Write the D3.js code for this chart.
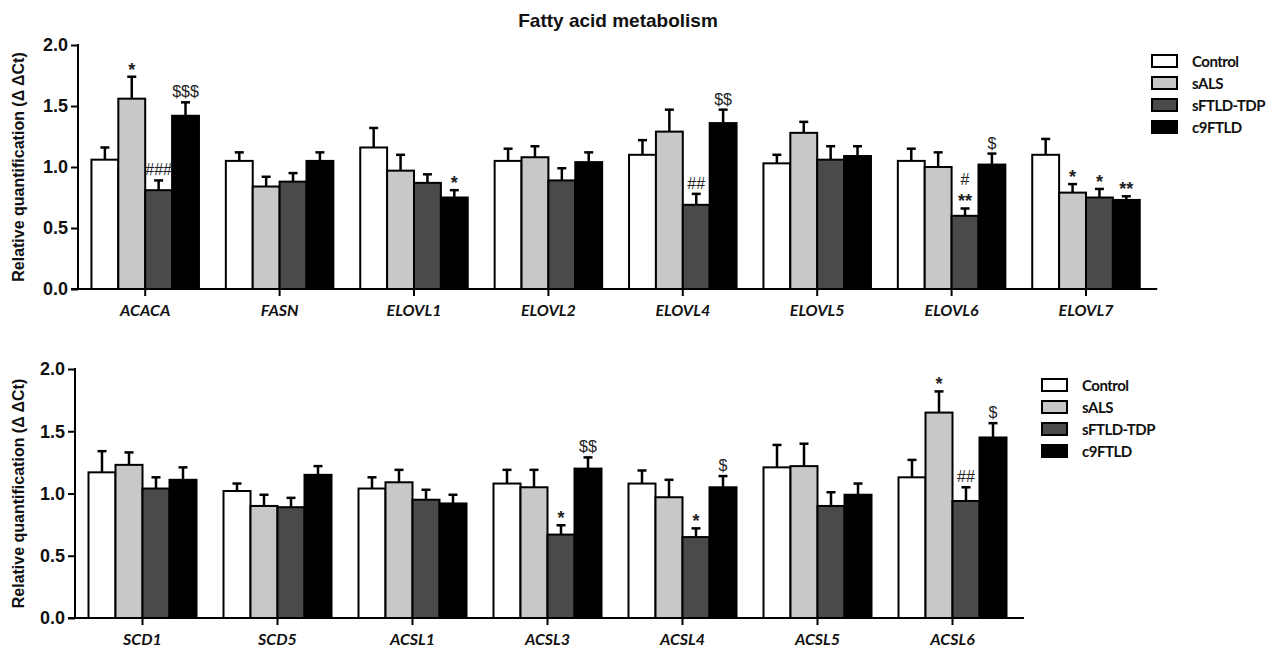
<!DOCTYPE html>
<html>
<head>
<meta charset="utf-8">
<script src="https://cdn.jsdelivr.net/npm/d3@7"></script>
<style>
  body { margin: 0; background: white; }
  svg { display: block; }
</style>
</head>
<body>
<div id="chartId"></div>
<script>

const SERIES = ["Control", "sALS", "sFTLD-TDP", "c9FTLD"]
// white, light grey, dark grey, black
const SERIES_COLORS = ["#ffffff", "#c8c8c8", "#4a4a4a", "#000000"]

const TOP_GENES = ["ACACA", "FASN", "ELOVL1", "ELOVL2", "ELOVL4", "ELOVL5", "ELOVL6", "ELOVL7"]
// one row per gene, one value per series
const TOP_MEAN = [
    [1.06, 1.56, 0.81, 1.42],
    [1.05, 0.84, 0.88, 1.05],
    [1.16, 0.97, 0.87, 0.75],
    [1.05, 1.08, 0.89, 1.04],
    [1.10, 1.29, 0.69, 1.36],
    [1.03, 1.28, 1.06, 1.09],
    [1.05, 1.00, 0.60, 1.02],
    [1.10, 0.79, 0.75, 0.73]
]
const TOP_SEM = [
    [0.10, 0.18, 0.08, 0.11],
    [0.07, 0.08, 0.07, 0.07],
    [0.16, 0.13, 0.07, 0.06],
    [0.10, 0.09, 0.10, 0.08],
    [0.12, 0.18, 0.09, 0.11],
    [0.07, 0.09, 0.11, 0.08],
    [0.10, 0.12, 0.06, 0.09],
    [0.13, 0.07, 0.07, 0.03]
]
// [gene index, series index, lines of text from top to bottom]
const TOP_MARKS = [
    [0, 1, ["*"]], [0, 2, ["###"]], [0, 3, ["$$$"]],
    [2, 3, ["*"]],
    [4, 2, ["##"]], [4, 3, ["$$"]],
    [6, 2, ["#", "**"]], [6, 3, ["$"]],
    [7, 1, ["*"]], [7, 2, ["*"]], [7, 3, ["**"]]
]

const BOTTOM_GENES = ["SCD1", "SCD5", "ACSL1", "ACSL3", "ACSL4", "ACSL5", "ACSL6"]
const BOTTOM_MEAN = [
    [1.17, 1.23, 1.04, 1.11],
    [1.02, 0.90, 0.89, 1.15],
    [1.04, 1.09, 0.95, 0.92],
    [1.08, 1.05, 0.67, 1.20],
    [1.08, 0.97, 0.65, 1.05],
    [1.21, 1.22, 0.90, 0.99],
    [1.13, 1.65, 0.94, 1.45]
]
const BOTTOM_SEM = [
    [0.17, 0.10, 0.09, 0.10],
    [0.06, 0.09, 0.075, 0.07],
    [0.09, 0.10, 0.08, 0.07],
    [0.11, 0.14, 0.075, 0.09],
    [0.105, 0.14, 0.07, 0.09],
    [0.18, 0.18, 0.11, 0.09],
    [0.14, 0.17, 0.11, 0.115]
]
const BOTTOM_MARKS = [
    [3, 2, ["*"]], [3, 3, ["$$"]],
    [4, 2, ["*"]], [4, 3, ["$"]],
    [6, 1, ["*"]], [6, 2, ["##"]], [6, 3, ["$"]]
]

const Y_TICKS = [0, 0.5, 1.0, 1.5, 2.0]
const Y_TITLE = "Relative quantification (\u0394 \u0394Ct)"
const TITLE = "Fatty acid metabolism"

const WIDTH = 1268
const HEIGHT = 650
const AXIS_FONT = "'Liberation Sans', Arial, sans-serif"
const LABEL_FONT = "Lato, 'Open Sans', sans-serif"

let svg = d3.select("#chartId").append("svg")
    .attr("width", WIDTH)
    .attr("height", HEIGHT)

svg.append("text")
    .attr("x", 618)
    .attr("y", 27)
    .attr("text-anchor", "middle")
    .attr("font-family", AXIS_FONT)
    .attr("font-weight", "bold")
    .attr("font-size", 19)
    .attr("fill", "#111")
    .text(TITLE)

drawPanel({
    genes: TOP_GENES, mean: TOP_MEAN, sem: TOP_SEM, marks: TOP_MARKS,
    left: 78, step: 134.4, top: 45, bottom: 289,
    legendX: 1152, legendY: 55
})

drawPanel({
    genes: BOTTOM_GENES, mean: BOTTOM_MEAN, sem: BOTTOM_SEM, marks: BOTTOM_MARKS,
    left: 75, step: 135, top: 369, bottom: 618,
    legendX: 1042, legendY: 379
})

function drawPanel(p) {
    let g = svg.append("g")
    let right = p.left + p.step * p.genes.length

    let x = d3.scaleBand()
        .domain(p.genes)
        .range([p.left, right])
        .paddingInner(0.2)
        .paddingOuter(0.1)
    let xs = d3.scaleBand()
        .domain(SERIES)
        .range([0, x.bandwidth()])
    let y = d3.scaleLinear()
        .domain([0, 2])
        .range([p.bottom, p.top])

    // bars
    p.genes.forEach((gene, gi) => {
        SERIES.forEach((s, si) => {
            let v = p.mean[gi][si]
            let e = p.sem[gi][si]
            let bx = x(gene) + xs(s)
            let cx = bx + xs.bandwidth() / 2
            // error bar first so the bar outline covers its foot
            g.append("line")
                .attr("x1", cx).attr("x2", cx)
                .attr("y1", y(v)).attr("y2", y(v + e))
                .attr("stroke", "#000").attr("stroke-width", 2.5)
            g.append("line")
                .attr("x1", cx - 4.5).attr("x2", cx + 4.5)
                .attr("y1", y(v + e)).attr("y2", y(v + e))
                .attr("stroke", "#000").attr("stroke-width", 2.5)
            g.append("rect")
                .attr("x", bx)
                .attr("y", y(v))
                .attr("width", xs.bandwidth())
                .attr("height", y(0) - y(v))
                .attr("fill", SERIES_COLORS[si])
                .attr("stroke", "#000")
                .attr("stroke-width", 2)
        })
    })

    // significance marks
    p.marks.forEach(([gi, si, lines]) => {
        let gene = p.genes[gi]
        let cx = x(gene) + xs(SERIES[si]) + xs.bandwidth() / 2
        let errTop = y(p.mean[gi][si] + p.sem[gi][si])
        let n = lines.length
        lines.forEach((t, li) => {
            let star = t.startsWith("*")
            g.append("text")
                .attr("x", cx)
                .attr("y", errTop - (star ? 1 : 5) - (n - 1 - li) * 18)
                .attr("text-anchor", "middle")
                .attr("font-family", AXIS_FONT)
                .attr("font-weight", star ? "bold" : "normal")
                .attr("font-size", star ? 18 : 16)
                .attr("fill", "#222")
                .text(t)
        })
    })

    // y axis
    let yAxis = g.append("g")
        .attr("transform", "translate(" + p.left + ",0)")
        .call(d3.axisLeft(y).tickValues(Y_TICKS).tickFormat(d3.format(".1f")).tickSize(7).tickSizeOuter(0).tickPadding(3))
    yAxis.selectAll("path, line").attr("stroke", "#000").attr("stroke-width", 2)
    yAxis.selectAll("text")
        .attr("font-family", AXIS_FONT)
        .attr("font-weight", "bold")
        .attr("font-size", 18)
        .attr("fill", "#111")
    yAxis.select(".domain").attr("d", "M0," + (p.top - 1) + "V" + p.bottom)

    // x axis
    let xAxis = g.append("g")
        .attr("transform", "translate(0," + p.bottom + ")")
        .call(d3.axisBottom(x).tickSize(7).tickSizeOuter(0).tickPadding(9))
    xAxis.select(".domain").attr("d", "M" + (p.left - 7) + ",0H" + (right + 4))
    xAxis.selectAll("path, line").attr("stroke", "#000").attr("stroke-width", 2)
    xAxis.selectAll("text")
        .attr("font-family", LABEL_FONT)
        .attr("font-weight", "bold")
        .attr("font-style", "italic")
        .attr("font-size", 16)
        .attr("fill", "#111")

    // y axis title
    g.append("text")
        .attr("transform", "translate(24," + ((p.top + p.bottom) / 2) + ") rotate(-90)")
        .attr("text-anchor", "middle")
        .attr("font-family", AXIS_FONT)
        .attr("font-weight", "bold")
        .attr("font-size", 16)
        .attr("fill", "#111")
        .text(Y_TITLE)

    // legend
    let legend = g.append("g")
        .attr("transform", "translate(" + p.legendX + "," + p.legendY + ")")
    SERIES.forEach((s, si) => {
        let row = legend.append("g").attr("transform", "translate(0," + si * 22 + ")")
        row.append("rect")
            .attr("x", 0).attr("y", 0)
            .attr("width", 25).attr("height", 12)
            .attr("fill", SERIES_COLORS[si])
            .attr("stroke", "#000").attr("stroke-width", 2)
        row.append("text")
            .attr("x", 40)
            .attr("y", 12)
            .attr("font-family", LABEL_FONT)
            .attr("font-weight", "bold")
            .attr("font-size", 15)
            .attr("letter-spacing", -0.5)
            .attr("fill", "#111")
            .text(s)
    })
}
</script>
</body>
</html>
